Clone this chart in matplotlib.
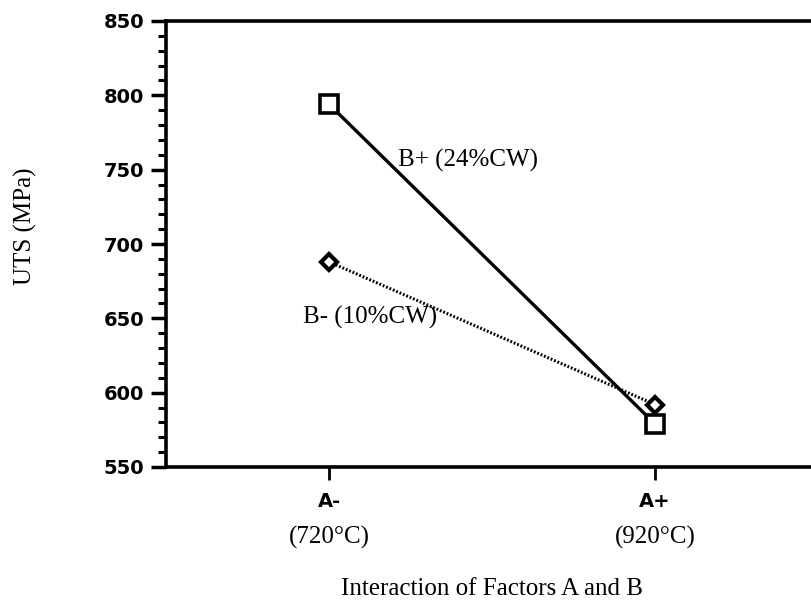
import matplotlib
matplotlib.use("Agg")
import matplotlib.pyplot as plt
from matplotlib.ticker import MultipleLocator
import matplotlib.transforms as mtransforms

# Data
categories = ["A-", "A+"]
temperatures = ["(720\u00b0C)", "(920\u00b0C)"]
b_plus = [794, 579]   # B+ (24%CW)
b_minus = [688, 592]  # B- (10%CW)
series_labels = ["B+ (24%CW)", "B- (10%CW)"]

serif = "Liberation Serif"
sans = "DejaVu Sans"

W, H = 811, 604
fig = plt.figure(figsize=(W / 100, H / 100), dpi=100)
ax = fig.add_axes([166 / W, 1 - 467 / H, 652 / W, 446 / H])

x = list(range(len(categories)))
ax.plot(x, b_plus, color="black", lw=2.4, marker="s", ms=12.5, mfc="white",
        mec="black", mew=2.6, zorder=3, clip_on=False)
ax.plot(x, b_minus, color="black", lw=2.2, ls=(0, (0.6, 0.6)), marker="D", ms=8.5,
        mfc="white", mec="black", mew=3.0, zorder=4, clip_on=False)

ax.set_xlim(-0.5, 1.5)
ax.set_ylim(550, 850)
ax.yaxis.set_major_locator(MultipleLocator(50))
ax.yaxis.set_minor_locator(MultipleLocator(10))
ax.set_xticks(x)
ax.set_xticklabels(categories, fontsize=14, family=sans, fontweight="bold")

for s in ["left", "bottom", "top", "right"]:
    ax.spines[s].set_linewidth(2.6)

ax.tick_params(axis="y", which="major", direction="out", length=10.5, width=2.5,
               labelsize=14, pad=5)
ax.tick_params(axis="y", which="minor", direction="out", length=6, width=2.2)
ax.tick_params(axis="x", which="major", direction="out", length=9, width=2.0,
               labelsize=14, pad=9)
for lab in ax.get_yticklabels():
    lab.set_family(sans)
    lab.set_fontweight("bold")

trans = mtransforms.blended_transform_factory(ax.transData, fig.transFigure)
for xi, t in zip(x, temperatures):
    ax.text(xi, 1 - 537 / H, t, transform=trans, ha="center", va="center",
            fontsize=18, family=serif)

ax.text(0.212, 850 - (160 - 21) / 1.487, series_labels[0], fontsize=18, family=serif,
        ha="left", va="center")
ax.text(-0.08, 850 - (318 - 21) / 1.487, series_labels[1], fontsize=18, family=serif,
        ha="left", va="center")

fig.text(25 / W, 1 - 226 / H, "UTS (MPa)", rotation=90, ha="center", va="center",
         fontsize=18, family=serif)
fig.text(492 / W, 1 - 589 / H, "Interaction of Factors A and B", ha="center",
         va="center", fontsize=18, family=serif)

fig.savefig("out.png", dpi=100)
